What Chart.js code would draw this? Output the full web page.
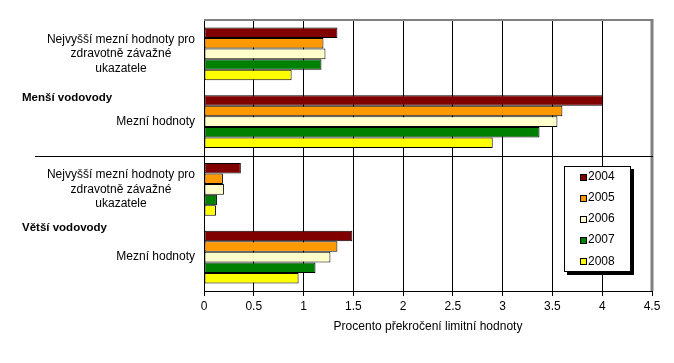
<!DOCTYPE html>
<html>
<head>
<meta charset="utf-8">
<script src="https://cdn.jsdelivr.net/npm/chart.js@4/dist/chart.umd.min.js"></script>
<style>
  html, body { margin: 0; padding: 0; background: #fff; }
  #wrap { width: 674px; height: 363px; }
</style>
</head>
<body>
<div id="wrap"><canvas id="chart" width="674" height="363"></canvas></div>
<script>
const categories = [
    ["Nejvyšší mezní hodnoty pro", "zdravotně závažné", "ukazatele"],
    ["Mezní hodnoty"],
    ["Nejvyšší mezní hodnoty pro", "zdravotně závažné", "ukazatele"],
    ["Mezní hodnoty"]
];
const groups = ["Menší vodovody", "Větší vodovody"];
const groupAt = [1, 3];
const years = ["2004", "2005", "2006", "2007", "2008"];
const v2004 = [1.34, 4.01, 0.37, 1.49];
const v2005 = [1.20, 3.60, 0.19, 1.34];
const v2006 = [1.22, 3.55, 0.20, 1.27];
const v2007 = [1.18, 3.37, 0.13, 1.12];
const v2008 = [0.88, 2.90, 0.12, 0.95];
const axisTitle = "Procento překročení limitní hodnoty";

const colors = ["#800000", "#ff9900", "#ffffcc", "#008000", "#ffff00"];
const FONT = '"Liberation Sans", Arial, sans-serif';

const overlay = {
    id: "overlay",
    afterDraw(chart) {
        const {ctx, chartArea: a, scales: {y}} = chart;
        ctx.save();

        // grey frame top + right
        ctx.strokeStyle = "#808080";
        ctx.lineWidth = 2;
        ctx.beginPath(); ctx.moveTo(a.left, a.top); ctx.lineTo(a.right + 1.5, a.top); ctx.stroke();
        ctx.lineWidth = 3;
        ctx.beginPath(); ctx.moveTo(a.right, a.top); ctx.lineTo(a.right, a.bottom); ctx.stroke();

        // category labels, lines centred on each other
        ctx.fillStyle = "#000";
        ctx.font = "12px " + FONT;
        ctx.textBaseline = "middle";
        ctx.textAlign = "center";
        categories.forEach((lines, i) => {
            const w = Math.max(...lines.map(l => ctx.measureText(l).width));
            const cx = a.left - 9 - w / 2;
            const cy = y.getPixelForValue(i);
            lines.forEach((l, k) => ctx.fillText(l, cx, cy + (k - (lines.length - 1) / 2) * 14.4));
        });

        // group labels
        ctx.font = "bold 11.5px " + FONT;
        ctx.textAlign = "left";
        const offs = [-23.5, -29.5];
        groups.forEach((g, i) => ctx.fillText(g, 22, y.getPixelForValue(groupAt[i]) + offs[i]));

        // separator between groups
        const sy = Math.round((y.getPixelForValue(1) + y.getPixelForValue(2)) / 2) + 0.5;
        ctx.strokeStyle = "#000";
        ctx.lineWidth = 1;
        ctx.beginPath(); ctx.moveTo(35, sy); ctx.lineTo(a.right + 1, sy); ctx.stroke();

        // legend box
        const lx = 564, ly = 166, lw = 67, lh = 106;
        ctx.fillStyle = "#000";
        ctx.fillRect(lx + 3, ly + 3, lw, lh);
        ctx.fillStyle = "#fff";
        ctx.fillRect(lx, ly, lw, lh);
        ctx.strokeRect(lx + 0.5, ly + 0.5, lw - 1, lh - 1);
        ctx.font = "12px " + FONT;
        years.forEach((yr, i) => {
            const cy = ly + 10.5 + i * 21.2;
            ctx.fillStyle = colors[i];
            ctx.fillRect(580, Math.round(cy) - 3, 7, 7);
            ctx.strokeRect(580.5, Math.round(cy) - 2.5, 6, 6);
            ctx.fillStyle = "#000";
            ctx.fillText(yr, 588, cy);
        });

        ctx.restore();
    }
};

const series = [v2004, v2005, v2006, v2007, v2008];

new Chart(document.getElementById("chart").getContext("2d"), {
    type: "bar",
    data: {
        labels: categories,
        datasets: years.map((yr, i) => ({
            label: yr,
            data: series[i],
            backgroundColor: colors[i],
            borderColor: "#000",
            borderWidth: 1,
            borderSkipped: false,
            categoryPercentage: 0.78,
            barPercentage: 1
        }))
    },
    options: {
        indexAxis: "y",
        responsive: false,
        animation: false,
        devicePixelRatio: 1,
        layout: {padding: {top: 20, right: 22, left: 0, bottom: 0}},
        plugins: {legend: {display: false}, tooltip: {enabled: false}},
        scales: {
            x: {
                type: "linear",
                min: 0,
                max: 4.5,
                ticks: {
                    stepSize: 0.5,
                    color: "#000",
                    padding: 3,
                    font: {family: FONT, size: 12},
                    callback: v => String(v)
                },
                grid: {color: "#000", tickLength: 5, lineWidth: 1},
                border: {color: "#000"},
                title: {
                    display: true,
                    text: axisTitle,
                    color: "#000",
                    font: {family: FONT, size: 12},
                    padding: {top: 4, bottom: 29}
                },
                afterFit: s => { s.height = 72; }
            },
            y: {
                grid: {display: false},
                ticks: {display: false},
                border: {display: true, color: "#000"},
                afterFit: s => { s.width = 204; }
            }
        }
    },
    plugins: [overlay]
});
</script>
</body>
</html>
